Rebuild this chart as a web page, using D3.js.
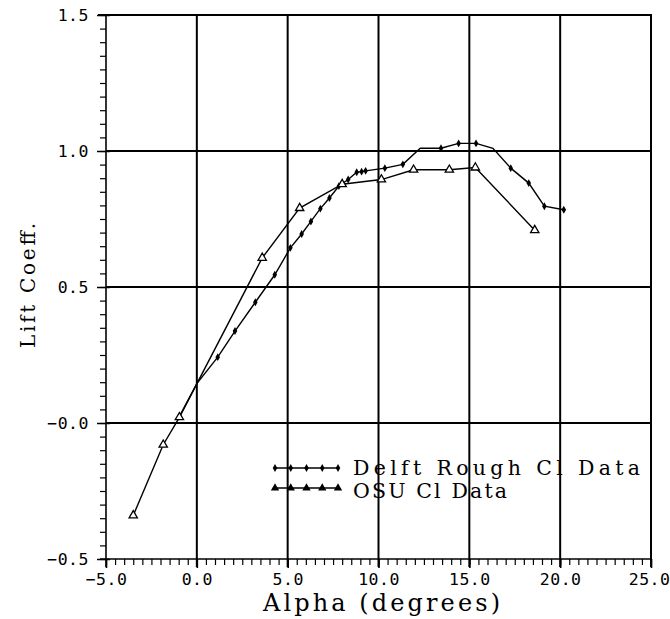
<!DOCTYPE html>
<html>
<head>
<meta charset="utf-8">
<script src="https://cdn.jsdelivr.net/npm/d3@7"></script>
<style>
  html, body { margin: 0; padding: 0; background: #fff; }
  svg { display: block; }
</style>
</head>
<body>
<svg id="chart" width="670" height="619"></svg>
<script>
// ---- Data ----
const delftAlpha = [-0.95, 0.0, 1.15, 2.1, 3.22, 4.29, 5.15, 5.77, 6.28, 6.8, 7.3, 7.82, 8.33, 8.8, 9.07, 9.29, 10.35, 11.34, 12.3, 13.44, 14.41, 15.37, 16.3, 17.28, 18.27, 19.13, 20.2];
const delftCl    = [0.025, 0.145, 0.242, 0.338, 0.444, 0.545, 0.644, 0.695, 0.741, 0.788, 0.827, 0.871, 0.895, 0.922, 0.924, 0.927, 0.937, 0.951, 1.01, 1.01, 1.028, 1.028, 1.01, 0.937, 0.882, 0.797, 0.784];
const delftMarked = [true, false, true, true, true, true, true, true, true, true, true, true, true, true, true, true, true, true, false, true, true, true, false, true, true, true, true];

const osuAlpha = [-3.5, -1.85, -0.96, 3.6, 5.66, 8.0, 10.16, 11.93, 13.9, 15.33, 18.6];
const osuCl    = [-0.34, -0.08, 0.021, 0.607, 0.79, 0.878, 0.895, 0.931, 0.931, 0.939, 0.709];

const xTicks = [-5, 0, 5, 10, 15, 20, 25];
const xTickLabels = ["\u22125.0", "0.0", "5.0", "10.0", "15.0", "20.0", "25.0"];
const yTicks = [-0.5, 0, 0.5, 1.0, 1.5];
const yTickLabels = ["\u22120.5", "\u22120.0", "0.5", "1.0", "1.5"];
const seriesNames = ["Delft Rough Cl Data", "OSU Cl Data"];
const xTitle = "Alpha (degrees)";
const yTitle = "Lift Coeff.";

// ---- Layout ----
const svg = d3.select("#chart");
const x = d3.scaleLinear().domain([-5, 25]).range([106, 651]);
const y = d3.scaleLinear().domain([-0.5, 1.5]).range([559, 15]);

const serifText = "'DejaVu Serif', 'Liberation Serif', serif";
const numFont = "'DejaVu Sans Mono', monospace";

// grid lines (vertical)
svg.append("g").selectAll("line").data(xTicks.slice(1)).join("line")
  .attr("x1", d => x(d)).attr("x2", d => x(d))
  .attr("y1", y(1.5)).attr("y2", y(-0.5) + 8)
  .attr("stroke", "#000").attr("stroke-width", 2);
// grid lines (horizontal)
svg.append("g").selectAll("line").data(yTicks.slice(1)).join("line")
  .attr("x1", d => d === 1.5 ? x(-5) - 8 : x(-5)).attr("x2", x(25) + 1)
  .attr("y1", d => y(d)).attr("y2", d => y(d))
  .attr("stroke", "#000").attr("stroke-width", 2);

// minor ticks, y axis (outward, left)
const yMinor = d3.range(-0.5, 1.5001, 0.05);
const yAxisMinor = d3.axisLeft(y).tickValues(yMinor).tickSize(6).tickFormat("");
const gy = svg.append("g").attr("transform", `translate(${x(-5)},0)`).call(yAxisMinor);
gy.select(".domain").attr("stroke-width", 1.6).attr("d", `M0,${y(1.5)}V${y(-0.5) + 8}`);
gy.selectAll(".tick line").attr("stroke-width", 1.2);

// y tick labels
const yAxisMajor = d3.axisLeft(y).tickValues(yTicks).tickSize(9).tickPadding(8)
  .tickFormat((d, i) => yTickLabels[i]);
const gy2 = svg.append("g").attr("transform", `translate(${x(-5)},0)`).call(yAxisMajor);
gy2.select(".domain").remove();
gy2.selectAll(".tick line").attr("stroke-width", 1.5).attr("x2", 4).attr("x1", -9);
gy2.selectAll("text").attr("font-family", numFont).attr("font-size", 16.5)
  .attr("letter-spacing", 0.5).attr("fill", "#000").attr("dy", "0.36em").attr("x", -17);

// minor ticks, x axis (outward, down)
const xMinor = d3.range(-5, 25.001, 0.5);
const xAxisMinor = d3.axisBottom(x).tickValues(xMinor).tickSize(6).tickFormat("");
const gx = svg.append("g").attr("transform", `translate(0,${y(-0.5)})`).call(xAxisMinor);
gx.select(".domain").attr("stroke-width", 1.6).attr("d", `M${x(-5) - 6},0H${x(25)}`);
gx.selectAll(".tick line").attr("stroke-width", 1.2);

// x tick labels
const xAxisMajor = d3.axisBottom(x).tickValues(xTicks).tickSize(9).tickPadding(5)
  .tickFormat((d, i) => xTickLabels[i]);
const gx2 = svg.append("g").attr("transform", `translate(0,${y(-0.5)})`).call(xAxisMajor);
gx2.select(".domain").remove();
gx2.selectAll(".tick line").attr("stroke-width", 1.6);
gx2.selectAll("text").attr("font-family", numFont).attr("font-size", 16.5)
  .attr("letter-spacing", 0.5).attr("fill", "#000");
gx2.selectAll("text").filter((d, i) => i === xTicks.length - 1).attr("text-anchor", "end").attr("x", 19);

// ---- Series ----
const line = d3.line().x(d => x(d[0])).y(d => y(d[1]));
const delft = delftAlpha.map((a, i) => [a, delftCl[i], delftMarked[i]]);
const osu = osuAlpha.map((a, i) => [a, osuCl[i]]);

svg.append("path").datum(delft).attr("d", line)
  .attr("fill", "none").attr("stroke", "#000").attr("stroke-width", 1.4);
svg.append("path").datum(osu).attr("d", line)
  .attr("fill", "none").attr("stroke", "#000").attr("stroke-width", 1.4);

const diamond = d3.symbol().type(d3.symbolDiamond).size(18);
const tri = d3.symbol().type(d3.symbolTriangle).size(30);

svg.append("g").selectAll("path").data(delft.filter(d => d[2])).join("path")
  .attr("d", diamond)
  .attr("transform", d => `translate(${x(d[0])},${y(d[1])})`)
  .attr("fill", "#000");
svg.append("g").selectAll("path").data(osu).join("path")
  .attr("d", tri)
  .attr("transform", d => `translate(${x(d[0])},${y(d[1])})`)
  .attr("fill", "#fff").attr("stroke", "#000").attr("stroke-width", 1.3);

// ---- Legend ----
const legX0 = 275, legX1 = 338;
const legRows = [
  { name: seriesNames[0], ly: 468, ty: 475, sym: diamond, fill: "#000", len: 287 },
  { name: seriesNames[1], ly: 488, ty: 498, sym: tri, fill: "#000", len: 154 }
];
legRows.forEach(r => {
  svg.append("line").attr("x1", legX0).attr("x2", legX1).attr("y1", r.ly).attr("y2", r.ly)
    .attr("stroke", "#000").attr("stroke-width", 1.4);
  d3.range(5).forEach(k => {
    svg.append("path").attr("d", r.sym)
      .attr("transform", `translate(${legX0 + k * (legX1 - legX0) / 4},${r.ly})`)
      .attr("fill", r.fill);
  });
  svg.append("text").attr("x", 353).attr("y", r.ty)
    .attr("font-family", serifText).attr("font-size", 20.5)
    .attr("textLength", r.len).attr("lengthAdjust", "spacing")
    .attr("fill", "#000").text(r.name);
});

// ---- Axis titles ----
svg.append("text").attr("x", 263).attr("y", 611)
  .attr("font-family", serifText).attr("font-size", 24)
  .attr("textLength", 237).attr("lengthAdjust", "spacing")
  .attr("fill", "#000").text(xTitle);
svg.append("text").attr("transform", "translate(35,348) rotate(-90)")
  .attr("font-family", serifText).attr("font-size", 20)
  .attr("textLength", 125).attr("lengthAdjust", "spacing")
  .attr("fill", "#000").text(yTitle);
</script>
</body>
</html>
